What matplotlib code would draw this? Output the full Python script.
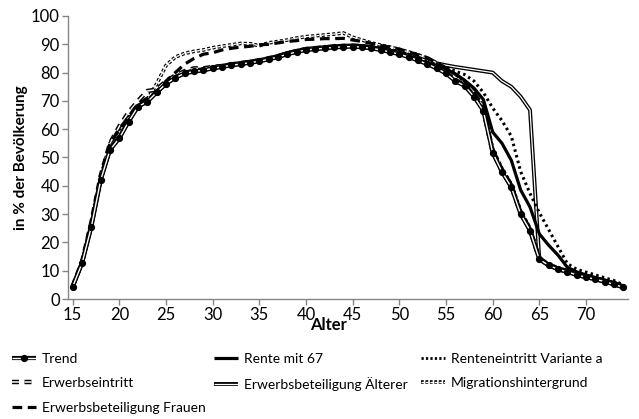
import matplotlib
matplotlib.use("Agg")
import matplotlib.pyplot as plt
import matplotlib.patheffects as pe
from matplotlib.lines import Line2D
from matplotlib.legend_handler import HandlerLine2D, HandlerTuple
import numpy as np

plt.rcParams['font.family'] = ['Lato', 'DejaVu Sans']
plt.rcParams['lines.scale_dashes'] = False
plt.rcParams['lines.solid_capstyle'] = 'butt'

ages = list(range(15, 75))

trend = [4.3, 12.6, 25.5, 42.0, 52.7, 56.8, 62.7, 68.0, 69.7, 73.0,
         76.0, 78.2, 79.7, 80.4, 80.8, 81.5, 82.0, 82.6, 83.0, 83.5,
         84.0, 84.7, 85.5, 86.5, 87.3, 88.0, 88.3, 88.6, 88.9, 89.1,
         89.2, 89.0, 88.6, 88.0, 87.3, 86.5, 85.5, 84.3, 83.0, 81.5,
         79.7, 77.0, 75.3, 71.5, 66.5, 51.7, 44.9, 39.5, 30.0, 24.2,
         14.0, 11.9, 10.5, 9.6, 8.5, 7.7, 7.0, 6.1, 5.2, 4.1]

erwerbseintritt = [4.5, 13.0, 27.0, 43.5, 55.0, 61.0, 66.0, 70.0, 73.5, 74.0,
                   77.0, 79.0, 80.5, 81.5, 81.5, 82.0, 82.3, 82.9, 83.3, 83.8,
                   84.3, 85.0, 85.8, 86.8, 87.6, 88.3, 88.6, 88.9, 89.2, 89.4,
                   89.5, 89.3, 88.9, 88.3, 87.6, 86.8, 85.8, 84.6, 83.3, 81.8,
                   80.0, 77.3, 75.6, 71.8, 66.8, 52.0, 45.2, 39.8, 30.3, 24.5,
                   14.3, 12.2, 10.8, 9.9, 8.8, 8.0, 7.3, 6.4, 5.5, 4.4]

frauen = [4.5, 13.0, 27.0, 43.0, 55.0, 60.0, 64.5, 69.0, 71.0, 73.0,
          77.0, 80.0, 83.0, 85.0, 86.5, 87.0, 88.0, 88.6, 89.0, 89.3,
          89.8, 90.0, 90.5, 91.0, 91.3, 91.7, 91.8, 92.0, 92.0, 92.1,
          91.5, 91.0, 90.3, 89.6, 89.0, 88.3, 87.3, 86.3, 85.3, 83.5,
          81.5, 79.5, 77.0, 73.0, 68.0, 53.0, 46.0, 40.5, 31.0, 25.0,
          14.5, 12.2, 10.8, 9.9, 8.8, 8.0, 7.3, 6.4, 5.5, 4.4]

rente67 = [4.3, 12.6, 25.5, 42.0, 52.7, 56.8, 62.7, 68.0, 69.7, 73.0,
           76.0, 78.2, 79.7, 80.4, 80.8, 81.5, 82.0, 82.6, 83.0, 83.5,
           84.0, 84.7, 85.5, 86.5, 87.3, 88.0, 88.3, 88.6, 88.9, 89.1,
           89.2, 89.0, 88.6, 88.0, 87.3, 86.5, 85.6, 84.5, 83.3, 82.3,
           81.3, 79.5, 77.3, 74.5, 70.5, 59.0, 55.0, 49.0, 38.5, 32.5,
           23.0, 19.0, 15.5, 11.2, 9.6, 8.5, 7.6, 6.7, 5.8, 4.6]

aelterer = [4.5, 12.8, 25.8, 42.3, 53.0, 57.2, 63.0, 68.3, 70.0, 73.3,
            76.3, 78.5, 80.0, 80.8, 81.2, 81.9, 82.4, 83.0, 83.4, 83.9,
            84.4, 85.1, 85.9, 86.9, 87.7, 88.4, 88.7, 89.0, 89.3, 89.5,
            89.6, 89.4, 89.0, 88.4, 87.8, 87.0, 86.2, 85.2, 84.2, 83.3,
            82.6, 82.0, 81.5, 81.0, 80.5, 80.0, 77.0, 75.0, 71.5, 66.8,
            14.0, 11.9, 10.5, 9.6, 8.5, 7.7, 7.0, 6.1, 5.2, 4.1]

variante_a = [4.3, 12.6, 25.5, 42.0, 52.7, 56.8, 62.7, 68.0, 69.7, 73.0,
              76.0, 78.2, 79.7, 80.4, 80.8, 81.5, 82.0, 82.6, 83.0, 83.5,
              84.0, 84.7, 85.5, 86.5, 87.3, 88.0, 88.3, 88.6, 88.9, 89.1,
              89.2, 89.0, 88.6, 88.0, 87.5, 86.8, 86.0, 85.0, 84.0, 83.0,
              82.0, 80.5, 79.3, 77.0, 73.0, 67.5, 63.0, 57.5, 45.0, 37.3,
              30.5, 24.5, 18.5, 12.5, 10.5, 9.5, 8.5, 7.5, 6.5, 5.0]

migration = [4.5, 13.0, 27.0, 43.0, 55.0, 60.0, 64.0, 67.5, 70.5, 76.0,
             82.5, 85.5, 86.8, 87.5, 88.0, 88.8, 89.3, 89.8, 90.3, 90.2,
             89.5, 90.5, 91.0, 91.5, 92.2, 92.7, 93.0, 93.3, 93.6, 94.0,
             92.5, 91.5, 90.5, 89.7, 89.0, 88.2, 87.3, 86.3, 85.0, 83.5,
             81.5, 79.5, 77.0, 73.0, 68.0, 53.0, 46.0, 40.5, 31.0, 25.0,
             14.5, 12.3, 10.9, 10.0, 8.9, 8.1, 7.4, 6.5, 5.6, 4.5]

labels = ["Trend", "Erwerbseintritt", "Erwerbsbeteiligung Frauen",
          "Rente mit 67", "Erwerbsbeteiligung Älterer",
          "Renteneintritt Variante a", "Migrationshintergrund"]

fig = plt.figure(figsize=(6.39, 4.19), dpi=100)
ax = fig.add_axes([68/639, 1-299/419, 560/639, 283/419])

def outline(w):
    return [pe.Stroke(linewidth=w, foreground='black'), pe.Normal()]

# Double lines (white core, black outline)
ax.plot(ages, aelterer, color='white', lw=0.9, path_effects=outline(2.8), zorder=3)
ax.plot(ages, migration, color='white', lw=0.9, dashes=(2.2, 1.6),
        path_effects=outline(2.6), zorder=3)
ax.plot(ages, erwerbseintritt, color='white', lw=1.1, dashes=(5, 4),
        path_effects=outline(3.2), zorder=3)
ax.plot(ages, frauen, color='black', lw=2.3, dashes=(7, 4), zorder=4)
ax.plot(ages, variante_a, color='black', lw=2.2, dashes=(1.8, 2.4), zorder=4)
ax.plot(ages, rente67, color='black', lw=2.3, zorder=5)
ax.plot(ages, trend, color='white', lw=1.0, path_effects=outline(3.0), zorder=6)
ax.plot(ages, trend, linestyle='none', marker='o', color='black',
        markersize=4.2, zorder=7)

ax.set_xlim(14.5, 74.5)
ax.set_ylim(0, 100)
ax.set_xticks(range(15, 71, 5))
ax.set_yticks(range(0, 101, 10))
for s in ['top', 'right']:
    ax.spines[s].set_visible(False)
for s in ['left', 'bottom']:
    ax.spines[s].set_color('#868686')
    ax.spines[s].set_linewidth(1.0)
ax.tick_params(axis='both', colors='#868686', labelcolor='black',
               labelsize=12, length=4, width=1.0, direction='out')
ax.tick_params(axis='x', pad=2)
ax.tick_params(axis='y', pad=2)

ax.set_ylabel("in % der Bevölkerung", fontsize=11, fontweight='bold')
ax.yaxis.set_label_coords(-0.071, 0.5)
ax.set_xlabel("Alter", fontsize=12, fontweight='bold')
ax.xaxis.set_label_coords(0.466, -0.065)


class HandlerRightMarker(HandlerLine2D):
    def get_xdata(self, legend, xdescent, ydescent, width, height, fontsize):
        xdata = np.array([-xdescent, -xdescent + width], float)
        return xdata, np.array([-xdescent + width], float)


h_tr_line = Line2D([], [], color='white', lw=1.0, path_effects=outline(3.0))
h_tr_mark = Line2D([], [], linestyle='none', marker='o', markersize=4.2,
                   color='black')
h_tr = (h_tr_line, h_tr_mark)
h_erw = Line2D([], [], color='white', lw=1.1, dashes=(5, 4),
               path_effects=outline(3.2))
h_fra = Line2D([], [], color='black', lw=2.3, dashes=(7, 4))
h_ren = Line2D([], [], color='black', lw=2.3)
h_aelt = Line2D([], [], color='white', lw=0.9, path_effects=outline(2.8))
h_var = Line2D([], [], color='black', lw=2.0, dashes=(1.6, 1.6))
h_mig = Line2D([], [], color='white', lw=0.9, dashes=(2.0, 1.2),
               path_effects=outline(2.6))

hmap = {tuple: HandlerTuple(ndivide=1, pad=0),
        h_tr_mark: HandlerRightMarker(numpoints=1)}

cols = [([h_tr, h_erw, h_fra], labels[0:3], 12/639),
        ([h_ren, h_aelt], labels[3:5], 214/639),
        ([h_var, h_mig], labels[5:7], 421/639)]
for hs, ls, x0 in cols:
    fig.legend(hs, ls, loc='upper left', bbox_to_anchor=(x0, 1-352.5/419),
               frameon=False, fontsize=10, handlelength=1.7,
               handletextpad=0.45, labelspacing=0.9, borderaxespad=0,
               borderpad=0, handler_map=hmap)

fig.savefig("out.png", dpi=100)
